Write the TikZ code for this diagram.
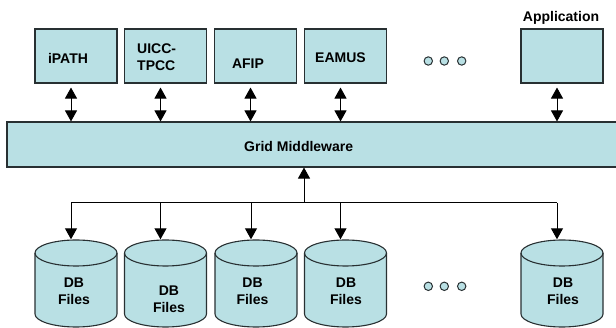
\documentclass[tikz,border=0pt]{standalone}
\usepackage{fontspec}
\setmainfont{Liberation Sans}
\usetikzlibrary{arrows.meta,calc}
\definecolor{boxfill}{RGB}{185,224,228}
\definecolor{edge}{RGB}{40,48,50}
\begin{document}
\begin{tikzpicture}[x=1pt,y=-1pt,
  lbl/.style={font=\fontsize{14}{17}\selectfont\bfseries, inner sep=0pt, align=center},
  appbox/.style={draw=edge, fill=boxfill, line width=1.1pt, minimum width=82pt, minimum height=54pt, inner sep=0pt},
  cylbody/.style={draw=edge, fill=boxfill, line width=1.1pt},
  cylspot/.style={minimum width=82pt, minimum height=87pt, inner sep=0pt},
  dotc/.style={draw=edge, fill=boxfill, line width=1pt},
  dbl/.style={line width=1pt, {Triangle[length=11pt,width=12pt]}-{Triangle[length=11pt,width=12pt]}},
  sgl/.style={line width=1pt, -{Triangle[length=11pt,width=12pt]}},
  bus/.style={line width=1pt}]
\useasboundingbox (0,0) rectangle (616,328);
\begin{scope}
\clip (0,0) rectangle (616,328);
% application boxes
\node[appbox] (a1) at (76,56) {};
\node[appbox] (a2) at (165.5,56) {};
\node[appbox] (a3) at (255.5,56) {};
\node[appbox] (a4) at (345.5,56) {};
\node[appbox] (a5) at (562,56) {};
\node[lbl] (t1) at (68,58) {iPATH};
\node[lbl, align=left, anchor=west] (t2) at (137,57.5) {UICC-\\TPCC};
\node[lbl] (t3) at (248,64) {AFIP};
\node[lbl] (t4) at (340.5,58) {EAMUS};
\node[lbl] (t5) at (561,18) {Application};
% dots top
\draw[dotc] (428.3,61) circle[radius=4.2pt];
\draw[dotc] (444.3,61) circle[radius=4.2pt];
\draw[dotc] (461.7,61) circle[radius=4.2pt];
% middleware
\node[draw=edge, fill=boxfill, line width=1.1pt, minimum width=616pt, minimum height=45pt, inner sep=0pt] (mw) at (315,144.5) {};
\node[lbl] (mwl) at (298.7,146) {Grid Middleware};
% double arrows
\foreach \a in {a1,a2,a3,a4,a5}{
  \coordinate (s\a) at ($(\a.south)+(-5,4)$);
  \draw[dbl] (s\a) -- (s\a |- mw.north);
}
% cylinders
\foreach \n/\cx in {c1/76,c2/165.5,c3/256,c4/345.5,c5/562}{
  \node[cylspot] (\n) at (\cx,283.5) {};
  \path[cylbody] (\cx-41,253) -- (\cx-41,314)
     arc[start angle=180,end angle=360,x radius=41pt,y radius=13pt]
     -- (\cx+41,253)
     arc[start angle=0,end angle=180,x radius=41pt,y radius=13pt] -- cycle;
  \draw[edge, line width=1.1pt] (\cx-41,253)
     arc[start angle=180,end angle=360,x radius=41pt,y radius=13pt];
}
\node[lbl] (d1) at (74,291.5) {DB\\Files};
\node[lbl] (d2) at (169,299.5) {DB\\Files};
\node[lbl] (d3) at (252.5,291.5) {DB\\Files};
\node[lbl] (d4) at (346,291.5) {DB\\Files};
\node[lbl] (d5) at (563,291.5) {DB\\Files};
% dots bottom
\draw[dotc] (428.3,286.3) circle[radius=4.2pt];
\draw[dotc] (444.3,286.3) circle[radius=4.2pt];
\draw[dotc] (461.7,286.3) circle[radius=4.2pt];
% bus
\coordinate (bus) at (304,203);
\draw[sgl] (bus) -- (bus |- mw.south);
\foreach \c in {c1,c2,c3,c4,c5}{
  \coordinate (e\c) at ($(\c.north)+(-5,-0.5)$);
  \draw[sgl] (e\c |- bus) -- (e\c);
}
\draw[bus] (ec1 |- bus) -- (ec5 |- bus);
\end{scope}
\end{tikzpicture}
\end{document}
